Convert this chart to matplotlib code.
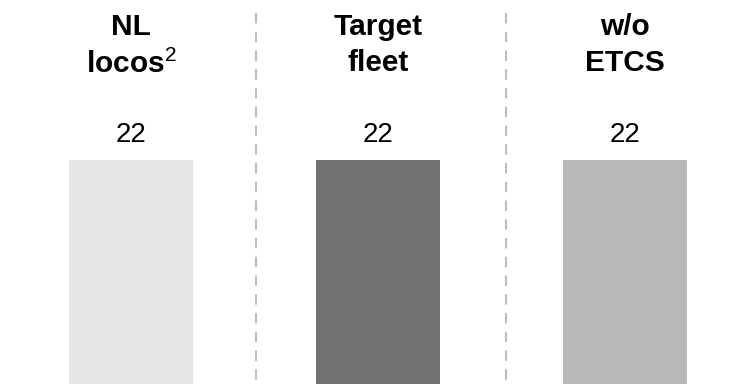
import matplotlib
matplotlib.use('Agg')
import matplotlib.pyplot as plt

# fleet comparison, one bar per group
groups = ['NL\nlocos$^2$', 'Target\nfleet', 'w/o\nETCS']
values = [22, 22, 22]
colors = ['#e6e6e6', '#707173', '#b8b8b8']
separators = [0.505, 1.52]

plt.rcParams['font.family'] = ['Liberation Sans', 'DejaVu Sans']
plt.rcParams['mathtext.fontset'] = 'custom'
plt.rcParams['mathtext.rm'] = 'Liberation Sans'
plt.rcParams['mathtext.it'] = 'Liberation Sans'

fig = plt.figure(figsize=(7.33, 3.84), dpi=100)
ax = fig.add_axes([0, 0, 1, 1])
ax.set_axis_off()

x = list(range(len(values)))
ax.bar(x, values, width=0.5, color=colors)
ax.set_xlim(-0.53, 2.437)
ax.set_ylim(0, 37.7)

# value labels above the bars
for xi, v in zip(x, values):
    ax.annotate(str(v), (xi, v), xytext=(0, 13), textcoords='offset points',
                ha='center', va='baseline', fontsize=20)

# group headers at the top
for xi, g in zip(x, groups):
    ax.text(xi, 0.965, g, transform=ax.get_xaxis_transform(), ha='center', va='top',
            fontsize=21.5, fontweight='bold', linespacing=1.34)

# dashed dividers between groups
for s in separators:
    ax.plot([s, s], [0.966, 0], transform=ax.get_xaxis_transform(),
            color='#bdbdbd', lw=1.5, linestyle=(0, (5, 4)))

fig.savefig('out.png', dpi=100)
